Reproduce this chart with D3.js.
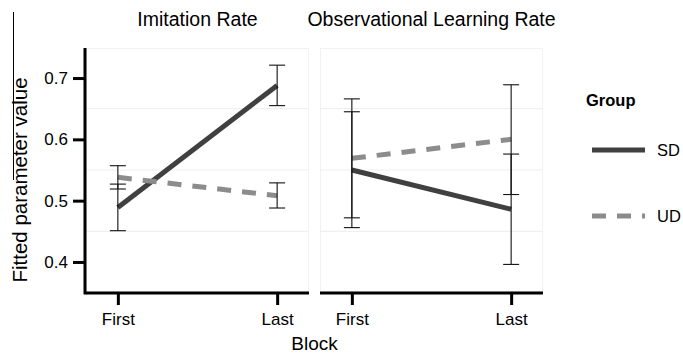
<!DOCTYPE html>
<html>
<head>
<meta charset="utf-8">
<script src="https://cdn.jsdelivr.net/npm/d3@7"></script>
<style>
body { margin: 0; background: #fff; }
text { font-family: "Liberation Sans", Arial, sans-serif; }
</style>
</head>
<body>
<svg id="chart" width="683" height="354"></svg>
<script>
var panels = ['Imitation Rate', 'Observational Learning Rate'];
var blocks = ['First', 'Last'];
var groups = ['SD', 'UD'];

// mean, lower, upper per panel / group / block
var imitation_sd = [[0.489, 0.451, 0.527], [0.688, 0.655, 0.721]];
var imitation_ud = [[0.538, 0.519, 0.557], [0.508, 0.488, 0.529]];
var observ_sd = [[0.550, 0.456, 0.645], [0.486, 0.396, 0.576]];
var observ_ud = [[0.569, 0.472, 0.666], [0.600, 0.510, 0.689]];

var y_ticks = [0.4, 0.5, 0.6, 0.7];
var grid_vals = [0.45, 0.55, 0.65];

var series = [
	[{ group: 'SD', vals: imitation_sd }, { group: 'UD', vals: imitation_ud }],
	[{ group: 'SD', vals: observ_sd }, { group: 'UD', vals: observ_ud }]
];

var svg = d3.select('#chart');

var top_y = 48, bottom_y = 292;
var panel_x = [[86, 309], [320, 543]];

var y = d3.scaleLinear().domain([0.351, 0.749]).range([bottom_y, top_y]);

var style = {
	SD: { color: '#404040', dash: null },
	UD: { color: '#8c8c8c', dash: '14,11' }
};

// stray line at left edge of the figure
svg.append('line')
	.attr('x1', 13.5).attr('x2', 13.5)
	.attr('y1', 12).attr('y2', 180)
	.attr('stroke', '#000').attr('stroke-width', 1);

panels.forEach(function(title, i)
{
	var x0 = panel_x[i][0], x1 = panel_x[i][1];
	var x = d3.scalePoint().domain(blocks).range([x0, x1]).padding(0.2);
	var g = svg.append('g');

	// faint panel border
	g.append('rect')
		.attr('x', x0 + 0.5).attr('y', top_y + 0.5)
		.attr('width', x1 - x0 - 1).attr('height', bottom_y - top_y - 1)
		.attr('fill', 'none').attr('stroke', '#f2f2f2');

	g.selectAll('.grid')
		.data(grid_vals)
		.enter()
		.append('line')
			.attr('x1', x0).attr('x2', x1)
			.attr('y1', function(d) { return y(d); })
			.attr('y2', function(d) { return y(d); })
			.attr('stroke', '#f0f0f0').attr('stroke-width', 1.2);

	g.append('text')
		.attr('x', (x0 + x1) / 2).attr('y', 26)
		.attr('text-anchor', 'middle')
		.attr('font-size', 19.5)
		.text(title);

	var line = d3.line()
		.x(function(d, j) { return x(blocks[j]); })
		.y(function(d) { return y(d[0]); });

	series[i].forEach(function(s)
	{
		g.append('path')
			.attr('d', line(s.vals))
			.attr('fill', 'none')
			.attr('stroke', style[s.group].color)
			.attr('stroke-width', 5)
			.attr('stroke-dasharray', style[s.group].dash);
	});

	series[i].forEach(function(s)
	{
		var eb = g.selectAll(null)
			.data(s.vals)
			.enter()
			.append('g')
			.attr('stroke', '#111').attr('stroke-width', 1.1);

		eb.append('line')
			.attr('x1', function(d, j) { return x(blocks[j]); })
			.attr('x2', function(d, j) { return x(blocks[j]); })
			.attr('y1', function(d) { return y(d[1]); })
			.attr('y2', function(d) { return y(d[2]); });
		[1, 2].forEach(function(k)
		{
			eb.append('line')
				.attr('x1', function(d, j) { return x(blocks[j]) - 8; })
				.attr('x2', function(d, j) { return x(blocks[j]) + 8; })
				.attr('y1', function(d) { return y(d[k]); })
				.attr('y2', function(d) { return y(d[k]); });
		});
	});

	// x axis
	var xa = g.append('g')
		.attr('transform', 'translate(0,' + (bottom_y + 1) + ')')
		.call(d3.axisBottom(x).tickSize(12).tickPadding(8));
	xa.select('.domain').remove();
	xa.append('line')
		.attr('x1', x0).attr('x2', x1)
		.attr('stroke', '#000').attr('stroke-width', 3);
	xa.selectAll('.tick line').attr('stroke', '#000').attr('stroke-width', 3);
	xa.selectAll('.tick text')
		.attr('fill', '#000').attr('font-size', 17)
		.attr('font-family', '"Liberation Sans", Arial, sans-serif');

	if(i == 0)
	{
		var ya = g.append('g')
			.attr('transform', 'translate(' + (x0 - 1) + ',0)')
			.call(d3.axisLeft(y).tickValues(y_ticks).tickSize(12).tickPadding(5).tickFormat(d3.format('.1f')));
		ya.select('.domain').remove();
		ya.append('line')
			.attr('y1', top_y).attr('y2', bottom_y + 2.5)
			.attr('stroke', '#000').attr('stroke-width', 3);
		ya.selectAll('.tick line').attr('stroke', '#000').attr('stroke-width', 3);
		ya.selectAll('.tick text')
			.attr('fill', '#000').attr('font-size', 17)
			.attr('font-family', '"Liberation Sans", Arial, sans-serif');
	}
});

// axis titles
svg.append('text')
	.attr('x', (panel_x[0][0] + panel_x[1][1]) / 2).attr('y', 350)
	.attr('text-anchor', 'middle').attr('font-size', 19)
	.text('Block');

svg.append('text')
	.attr('transform', 'translate(27,180) rotate(-90)')
	.attr('text-anchor', 'middle').attr('font-size', 20.5)
	.text('Fitted parameter value');

// legend
var legend = svg.append('g');
legend.append('text')
	.attr('x', 586).attr('y', 106)
	.attr('font-size', 16.5).attr('font-weight', 'bold')
	.text('Group');

var legend_y = d3.scalePoint().domain(groups).range([150, 216]);

var items = legend.selectAll('.item')
	.data(groups)
	.enter()
	.append('g');

items.append('line')
	.attr('x1', 592).attr('x2', 645)
	.attr('y1', function(d) { return legend_y(d); })
	.attr('y2', function(d) { return legend_y(d); })
	.attr('stroke', function(d) { return style[d].color; })
	.attr('stroke-width', 5)
	.attr('stroke-dasharray', function(d) { return style[d].dash; });

items.append('text')
	.attr('x', 657)
	.attr('y', function(d) { return legend_y(d); })
	.attr('dy', '0.36em')
	.attr('font-size', 16.5)
	.text(function(d) { return d; });
</script>
</body>
</html>
